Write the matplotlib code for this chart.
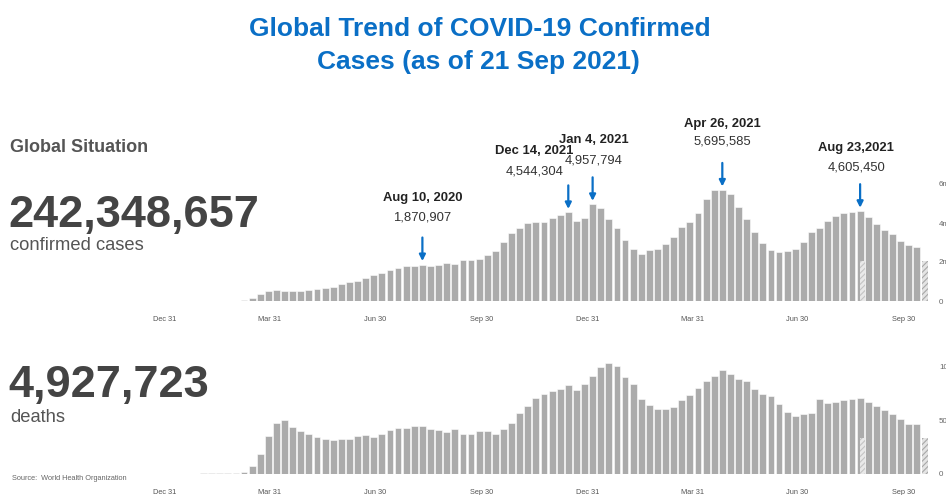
import matplotlib
matplotlib.use("Agg")
import matplotlib.pyplot as plt
import matplotlib.dates as mdates
import pandas as pd

plt.rcParams["font.family"] = ["Liberation Sans", "DejaVu Sans"]
plt.rcParams["hatch.linewidth"] = 0.8

W, H, DPI = 946, 495, 100

# Weekly new confirmed cases (millions), weeks starting Monday 30 Dec 2019
cases_m = [
    0.0, 0.0, 0.002, 0.012, 0.018, 0.020, 0.025, 0.012, 0.008, 0.015,
    0.045, 0.17, 0.38, 0.50, 0.55, 0.53, 0.53, 0.53, 0.55, 0.60,
    0.65, 0.70, 0.85, 0.95, 1.05, 1.19, 1.32, 1.44, 1.58, 1.71,
    1.80, 1.82, 1.870907, 1.78, 1.83, 1.95, 1.92, 2.09, 2.09, 2.14,
    2.34, 2.54, 3.05, 3.48, 3.75, 4.00, 4.07, 4.04, 4.24, 4.40,
    4.544304, 4.12, 4.27, 4.957794, 4.79, 4.20, 3.73, 3.13, 2.67, 2.41,
    2.60, 2.67, 2.91, 3.28, 3.78, 4.03, 4.53, 5.21, 5.69, 5.695585,
    5.47, 4.80, 4.19, 3.52, 2.98, 2.62, 2.50, 2.56, 2.67, 3.04,
    3.52, 3.76, 4.12, 4.38, 4.53, 4.55, 4.605450, 4.31, 3.93, 3.62,
    3.45, 3.08, 2.87, 2.79, 2.07,
]

# Weekly deaths (thousands), same weeks
deaths_k = [
    0.0, 0.0, 0.05, 0.15, 0.3, 0.5, 0.6, 0.7, 0.5, 0.6,
    2.0, 7.5, 18.7, 35.5, 47.4, 50.2, 43.6, 39.6, 37.1, 34.6,
    32.4, 31.5, 33.0, 32.7, 35.2, 36.1, 34.3, 36.8, 40.8, 43.0,
    43.0, 44.5, 44.2, 41.7, 40.5, 38.9, 42.1, 37.1, 37.1, 39.9,
    39.9, 37.4, 41.7, 47.0, 57.0, 62.9, 70.7, 74.5, 77.3, 79.1,
    82.9, 78.5, 83.8, 91.6, 99.4, 103.1, 100.9, 90.0, 83.8, 70.1,
    63.9, 60.7, 60.4, 62.3, 68.5, 73.8, 79.8, 86.9, 91.6, 96.3,
    93.1, 88.5, 86.6, 79.1, 74.5, 72.9, 65.1, 57.9, 54.2, 56.1,
    56.7, 70.1, 66.0, 67.0, 69.2, 69.8, 70.7, 67.0, 62.9, 59.8,
    56.1, 51.4, 46.7, 46.7, 33.3,
]

weeks = pd.date_range("2019-12-30", periods=len(cases_m), freq="7D")

tick_dates = ["2019-12-31", "2020-03-31", "2020-06-30", "2020-09-30",
              "2020-12-31", "2021-03-31", "2021-06-30", "2021-09-30"]
tick_labels = ["Dec 31", "Mar 31", "Jun 30", "Sep 30",
               "Dec 31", "Mar 31", "Jun 30", "Sep 30"]

case_ticks = [0, 2, 4, 6]
case_tick_labels = ["0", "2m", "4m", "6m"]
death_ticks = [0, 50, 100]
death_tick_labels = ["0", "50k", "100k"]

# Highlighted weeks: (week start, heading, value)
peak_weeks = ["2020-08-10", "2020-12-14", "2021-01-04", "2021-04-26", "2021-08-23"]
peak_titles = ["Aug 10, 2020", "Dec 14, 2021", "Jan 4, 2021", "Apr 26, 2021", "Aug 23,2021"]
peak_values = [1870907, 4544304, 4957794, 5695585, 4605450]
# label placement above each bar (pixels): horizontal shift, heading / value heights
peak_text_dx = [0, -34, 1, 0, -4]
peak_title_dy = [67, 61, 64, 66, 63]
peak_value_dy = [47, 41, 44, 48, 44]

# Week whose partial-week marker is echoed behind the latest peak
echo_week = "2021-08-23"

BAR = "#ababab"
BLUE = "#0a6fc6"
DARK = "#444444"
MID = "#555555"

fig = plt.figure(figsize=(W / DPI, H / DPI), dpi=DPI)
fig.patch.set_facecolor("white")

def px(x, y):
    return x / W, 1 - y / H

# Title
fig.text(*px(480, 29), "Global Trend of COVID-19 Confirmed", color=BLUE,
         fontsize=19, fontweight="bold", ha="center", va="center")
fig.text(*px(478, 62), "Cases (as of 21 Sep 2021)", color=BLUE,
         fontsize=19, fontweight="bold", ha="center", va="center")

# Left-hand summary
fig.text(*px(10, 148), "Global Situation", color=MID, fontsize=13,
         fontweight="bold", ha="left", va="center")
fig.text(*px(8, 227), "242,348,657", color=DARK, fontsize=32.5,
         fontweight="bold", ha="left", va="baseline")
fig.text(*px(10, 245), "confirmed cases", color=MID, fontsize=13.2,
         ha="left", va="center")
fig.text(*px(8, 397), "4,927,723", color=DARK, fontsize=32.5,
         fontweight="bold", ha="left", va="baseline")
fig.text(*px(10, 417), "deaths", color=MID, fontsize=13.2,
         ha="left", va="center")
fig.text(*px(12, 478), "Source:  World Health Organization", color="#666666",
         fontsize=5.3, ha="left", va="center")

# Axes geometry: day 0 (30 Dec 2019) at x=163 px, 1.158 px per day
d0 = mdates.date2num(pd.Timestamp("2019-12-30"))
ppd = 1.158
ax_left, ax_right = 150, 930
xlim = (d0 - (163 - ax_left) / ppd, d0 + (ax_right - 163) / ppd)

top_base, top_scale = 301, 19.5      # px, px per million
bot_base, bot_scale = 474, 1.075     # px, px per thousand
top_h, bot_h = 121, 112

ax1 = fig.add_axes([ax_left / W, (H - top_base) / H, (ax_right - ax_left) / W, top_h / H])
ax2 = fig.add_axes([ax_left / W, (H - bot_base) / H, (ax_right - ax_left) / W, bot_h / H])
ax1.set_ylim(0, top_h / top_scale)
ax2.set_ylim(0, bot_h / bot_scale)

xs = mdates.date2num(weeks)
bar_w = 5.9
echo_x = mdates.date2num(pd.Timestamp(echo_week)) + 2.0

for ax, vals in ((ax1, cases_m), (ax2, deaths_k)):
    ax.set_xlim(*xlim)
    ax.bar(xs[:-1], vals[:-1], width=bar_w, color=BAR, edgecolor="white",
           linewidth=0.4)
    # latest (incomplete) week drawn hatched
    ax.bar(xs[-1:], vals[-1:], width=bar_w, color="#e4e4e4", edgecolor="#a8a8a8",
           linewidth=0, hatch="//////")
    ax.bar([echo_x], vals[-1:], width=3.6, color="#e9e9e9", edgecolor="#c4c4c4",
           linewidth=0, hatch="//////", zorder=3)
    for s in ax.spines.values():
        s.set_visible(False)
    ax.set_xticks(mdates.date2num(pd.to_datetime(tick_dates)))
    ax.set_xticklabels(tick_labels)
    ax.tick_params(axis="x", length=0, pad=10.5, labelsize=5.3, labelcolor="#555555")
    ax.yaxis.tick_right()
    ax.tick_params(axis="y", length=0, pad=6.5, labelsize=5.8, labelcolor="#666666")
    ax.set_facecolor("none")

ax1.set_yticks(case_ticks)
ax1.set_yticklabels(case_tick_labels)
ax2.set_yticks(death_ticks)
ax2.set_yticklabels(death_tick_labels)
for lab in ax1.get_yticklabels() + ax2.get_yticklabels():
    lab.set_horizontalalignment("left")

# Peak annotations
for wk, title, val, dx, tdy, vdy in zip(peak_weeks, peak_titles, peak_values,
                                        peak_text_dx, peak_title_dy, peak_value_dy):
    x = mdates.date2num(pd.Timestamp(wk))
    y = val / 1e6
    ax1.annotate("", xy=(x, y), xytext=(0, 27), textcoords="offset pixels",
                 arrowprops=dict(arrowstyle="-|>", color=BLUE, lw=1.6,
                                 shrinkA=0, shrinkB=2.5, mutation_scale=9),
                 annotation_clip=False)
    ax1.annotate(title, xy=(x, y), xytext=(dx, tdy), textcoords="offset pixels",
                 ha="center", va="center", fontsize=9.4, fontweight="bold",
                 color="#222222", annotation_clip=False)
    ax1.annotate(f"{val:,}", xy=(x, y), xytext=(dx, vdy), textcoords="offset pixels",
                 ha="center", va="center", fontsize=9.4, color="#333333",
                 annotation_clip=False)

fig.savefig("out.png", dpi=DPI, facecolor="white")
